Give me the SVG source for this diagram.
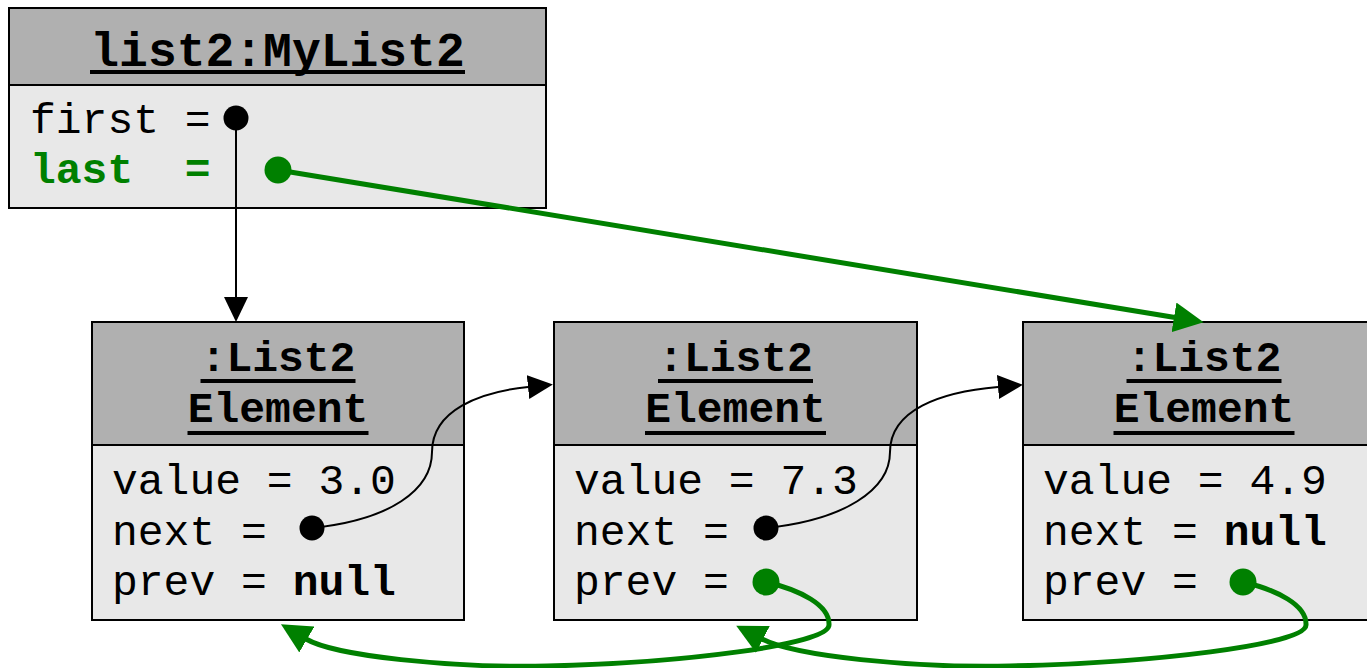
<svg xmlns="http://www.w3.org/2000/svg" width="1367" height="668" viewBox="0 0 1367 668">
<style>
.hdr{fill:#b0b0b0;stroke:#000;stroke-width:2}
.body{fill:#e8e8e8;stroke:#000;stroke-width:2}
.t{font-family:"Liberation Mono","Courier New",monospace;font-size:43px;fill:#000}
.title{font-family:"Liberation Mono","Courier New",monospace;font-size:43px;font-weight:bold;fill:#000;text-anchor:middle}
.ul{stroke:#000;stroke-width:4}
.b{font-weight:bold}
.g{fill:#008000}
.blk{fill:none;stroke:#000;stroke-width:2}
.grn{fill:none;stroke:#008000;stroke-width:5}
</style>
<defs>
<marker id="ab" markerUnits="userSpaceOnUse" markerWidth="26" markerHeight="24" refX="0" refY="12" orient="auto" viewBox="0 0 26 24">
<path d="M0,0 L25,12 L0,24 z" fill="#000"/>
</marker>
<marker id="ag" markerUnits="userSpaceOnUse" markerWidth="31" markerHeight="30" refX="1" refY="15" orient="auto" viewBox="0 0 31 30">
<path d="M0,0 L30,15 L0,30 z" fill="#008000"/>
</marker>
</defs>
<rect x="0" y="0" width="1367" height="668" fill="#fff"/>

<g id="list2">
<rect class="hdr" x="9" y="8" width="537" height="77"/>
<rect class="body" x="9" y="85" width="537" height="123"/>
<text class="title" x="277.5" y="66" style="font-size:48px">list2:MyList2</text>
<line class="ul" x1="90" y1="72" x2="465" y2="72"/>
<text class="t" x="30" y="133">first =</text>
<text class="t g b" x="30" y="183" xml:space="preserve">last  =</text>
<circle cx="236" cy="118" r="12.5" fill="#000"/>
<circle cx="278" cy="170" r="13.5" fill="#008000"/>
</g>

<g id="elem1">
<rect class="hdr" x="92" y="322" width="372" height="123"/>
<rect class="body" x="92" y="445" width="372" height="175"/>
<text class="title" x="278" y="371">:List2</text>
<line class="ul" x1="200.5" y1="381" x2="355.5" y2="381"/>
<text class="title" x="278" y="422">Element</text>
<line class="ul" x1="187.5" y1="433" x2="368.5" y2="433"/>
<text class="t" x="112" y="494">value = 3.0</text>
<text class="t" x="112" y="545">next =</text>
<text class="t" x="112" y="595">prev = <tspan class="b">null</tspan></text>
<circle cx="312" cy="528" r="12.5" fill="#000"/>
</g>

<g id="elem2">
<rect class="hdr" x="554" y="322" width="363" height="123"/>
<rect class="body" x="554" y="445" width="363" height="175"/>
<text class="title" x="735.5" y="371">:List2</text>
<line class="ul" x1="658" y1="381" x2="813" y2="381"/>
<text class="title" x="735.5" y="422">Element</text>
<line class="ul" x1="645" y1="433" x2="826" y2="433"/>
<text class="t" x="574" y="494">value = 7.3</text>
<text class="t" x="574" y="545">next =</text>
<text class="t" x="574" y="595">prev =</text>
<circle cx="766" cy="528" r="12.5" fill="#000"/>
<circle cx="766" cy="582" r="13.5" fill="#008000"/>
</g>

<g id="elem3">
<rect class="hdr" x="1023" y="322" width="372" height="123"/>
<rect class="body" x="1023" y="445" width="372" height="175"/>
<text class="title" x="1204" y="371">:List2</text>
<line class="ul" x1="1126.5" y1="381" x2="1281.5" y2="381"/>
<text class="title" x="1204" y="422">Element</text>
<line class="ul" x1="1113.5" y1="433" x2="1294.5" y2="433"/>
<text class="t" x="1043" y="494">value = 4.9</text>
<text class="t" x="1043" y="545">next = <tspan class="b">null</tspan></text>
<text class="t" x="1043" y="595">prev =</text>
<circle cx="1243" cy="582" r="13.5" fill="#008000"/>
</g>

<g id="connectors">
<path class="blk" d="M236,118 L236,297" marker-end="url(#ab)"/>
<path class="grn" d="M278,170 L1175,317.5" marker-end="url(#ag)"/>
<path class="blk" d="M312,528 C390,520 432,490 432,452 C432,410 480,392 528,387" marker-end="url(#ab)"/>
<path class="blk" d="M766,528 C844,520 890,490 890,452 C890,410 940,392 998,387" marker-end="url(#ab)"/>
<path class="grn" d="M766,582 C800,590 830,605 829,625 C829,645 680,663 547,666 C450,668 335,656 306,639" marker-end="url(#ag)"/>
<path class="grn" d="M1243,582 C1277,590 1307,605 1306,625 C1306,645 1150,663 1010,666 C910,668 795,656 762,639" marker-end="url(#ag)"/>
</g>
</svg>
